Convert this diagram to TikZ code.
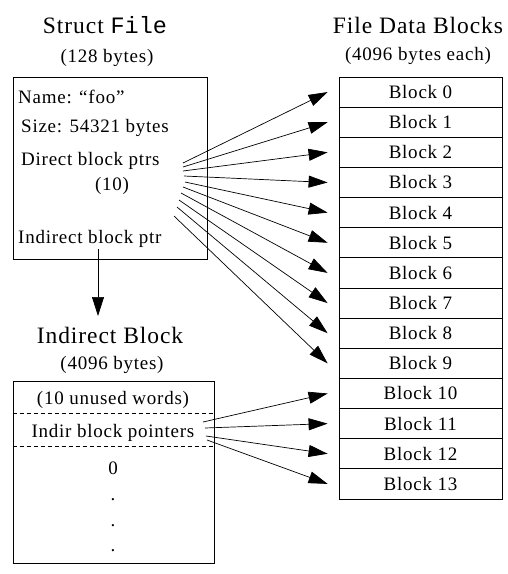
\documentclass[tikz,border=0pt]{standalone}
\usepackage{fontspec}
\setmainfont{Liberation Serif}[LetterSpace=4]
\newfontfamily\cour{Liberation Mono}
\usetikzlibrary{arrows.meta}
\tikzset{
  body/.style={font=\fontsize{19}{22}\selectfont, inner sep=0pt},
  ttl/.style={font=\fontsize{23.5}{27}\selectfont, inner sep=0pt},
  blk/.style={draw, line width=0.8pt, minimum width=163pt, minimum height=30.14pt, inner sep=0pt, font=\fontsize{19}{22}\selectfont},
  ptr/.style={line width=0.7pt, -{Triangle[length=19pt,width=12pt]}},
  frame/.style={draw, line width=0.8pt, inner sep=0pt},
  sep/.style={line width=0.7pt, dash pattern=on 4pt off 3pt}
}
\begin{document}
\begin{tikzpicture}[x=1pt,y=-1pt]
\useasboundingbox[fill=white] (0,0) rectangle (507,574);
% Struct File
\node[ttl, anchor=base] (st) at (105,33) {Struct {\cour File}};
\node[body, anchor=base] (stb) at (107,62) {(128 bytes)};
\node[frame, minimum width=194pt, minimum height=182pt] (sf) at (110,168) {};
\node[body, anchor=base west] (nm) at (18,103) {Name: ``foo''};
\node[body, anchor=base west] (sz) at (21,132) {Size: 54321 bytes};
\node[body, anchor=base west] (dp) at (21,165) {Direct block ptrs};
\node[body, anchor=base] (ten) at (112,190) {(10)};
\node[body, anchor=base west] (ip) at (18,243) {Indirect block ptr};
% File data blocks
\node[ttl, anchor=base] (fd) at (418,33) {File Data Blocks};
\node[body, anchor=base] (fdb) at (418,60) {(4096 bytes each)};
\foreach \i in {0,...,13}{
  \node[blk] (b\i) at (420.5,{92.07+30.14*\i}) {Block \i};
}
% Indirect block
\node[ttl, anchor=base] (it) at (110,343) {Indirect Block};
\node[body, anchor=base] (itb) at (112,369) {(4096 bytes)};
\node[frame, minimum width=201pt, minimum height=182pt] (ib) at (113.5,472) {};
\draw[sep] (ib.west |- 0,413) -- (ib.east |- 0,413);
\draw[sep] (ib.west |- 0,446) -- (ib.east |- 0,446);
\node[body, anchor=base] (uw) at (113,404) {(10 unused words)};
\node[body, anchor=base] (bp) at (113,437) {Indir block pointers};
\node[body, anchor=base] (z) at (113,474) {0};
\node[body, anchor=base] (d1) at (113,500) {.};
\node[body, anchor=base] (d2) at (113,526) {.};
\node[body, anchor=base] (d3) at (113,551) {.};
% Struct -> indirect arrow
\coordinate (ipdown) at (98,249);
\coordinate (ittop) at (98,316);
\draw[ptr] (ipdown) -- (ittop);
% direct pointers
\foreach \i/\x/\y in {0/183/163,1/183/167,2/183/171,3/184/176,4/185/182,5/183/187,6/181/193,7/179/200,8/177/207,9/174/216}{
  \coordinate (s\i) at (\x,\y);
  \draw[ptr] (s\i) -- ([xshift=-11pt]b\i.west);
}
% indirect pointers
\foreach \i/\x/\y in {10/203/422,11/205/428,12/206/436,13/207/440}{
  \coordinate (s\i) at (\x,\y);
  \draw[ptr] (s\i) -- ([xshift=-11pt]b\i.west);
}
\end{tikzpicture}
\end{document}
